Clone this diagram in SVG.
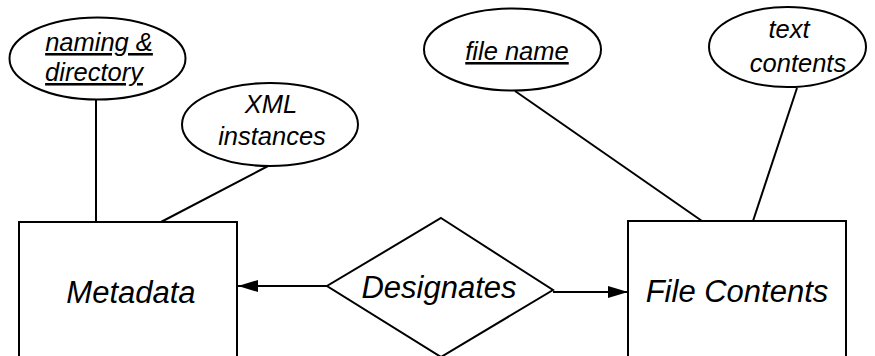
<svg xmlns="http://www.w3.org/2000/svg" width="875" height="356" viewBox="0 0 875 356">
  <style>
    .shape { fill: #ffffff; stroke: #000000; stroke-width: 2; }
    .link { fill: none; stroke: #000000; stroke-width: 2; }
    .label { font-family: "Liberation Sans", Arial, sans-serif; font-style: italic; fill: #000000; text-anchor: middle; }
    .big { font-size: 31px; }
    .small { font-size: 25.5px; }
    .key { text-decoration: underline; }
  </style>
  <defs>
    <marker id="arrowhead" viewBox="0 0 20 12" refX="20" refY="6" markerWidth="20" markerHeight="12" markerUnits="userSpaceOnUse" orient="auto">
      <path d="M0,0 L20,6 L0,12 z" fill="#000000"/>
    </marker>
  </defs>

  <!-- connectors -->
  <g id="connectors">
    <line class="link" x1="96" y1="100" x2="96" y2="222"/>
    <line class="link" x1="268" y1="166" x2="161" y2="222"/>
    <line class="link" x1="515" y1="91" x2="702" y2="221"/>
    <line class="link" x1="797" y1="88" x2="753" y2="221"/>
    <line class="link" x1="327" y1="286" x2="238" y2="286" marker-end="url(#arrowhead)"/>
    <line class="link" x1="553" y1="292" x2="628" y2="292" marker-end="url(#arrowhead)"/>
  </g>

  <!-- entities -->
  <g id="metadata">
    <rect class="shape" x="19" y="222" width="218" height="140"/>
    <text class="label big" x="131" y="303">Metadata</text>
  </g>
  <g id="file-contents">
    <rect class="shape" x="628" y="221" width="218" height="141"/>
    <text class="label big" x="737" y="302">File Contents</text>
  </g>

  <!-- relationship -->
  <g id="designates">
    <polygon class="shape" points="441,218 553,290 441,357 327,286"/>
    <text class="label big" x="439" y="298">Designates</text>
  </g>

  <!-- attributes -->
  <g id="naming-directory">
    <ellipse class="shape" cx="97.5" cy="58.5" rx="88" ry="41"/>
    <text class="label small key" x="99" y="51">naming &amp;</text>
    <text class="label small key" x="94" y="81">directory</text>
  </g>
  <g id="xml-instances">
    <ellipse class="shape" cx="270" cy="124.5" rx="88" ry="41.5"/>
    <text class="label small" x="271" y="113">XML</text>
    <text class="label small" x="272" y="145">instances</text>
  </g>
  <g id="file-name">
    <ellipse class="shape" cx="512.5" cy="49.5" rx="88.5" ry="41"/>
    <text class="label small key" x="517" y="60">file name</text>
  </g>
  <g id="text-contents">
    <ellipse class="shape" cx="787.5" cy="47" rx="78.5" ry="40"/>
    <text class="label small" x="789" y="38">text</text>
    <text class="label small" x="798" y="72">contents</text>
  </g>
</svg>
